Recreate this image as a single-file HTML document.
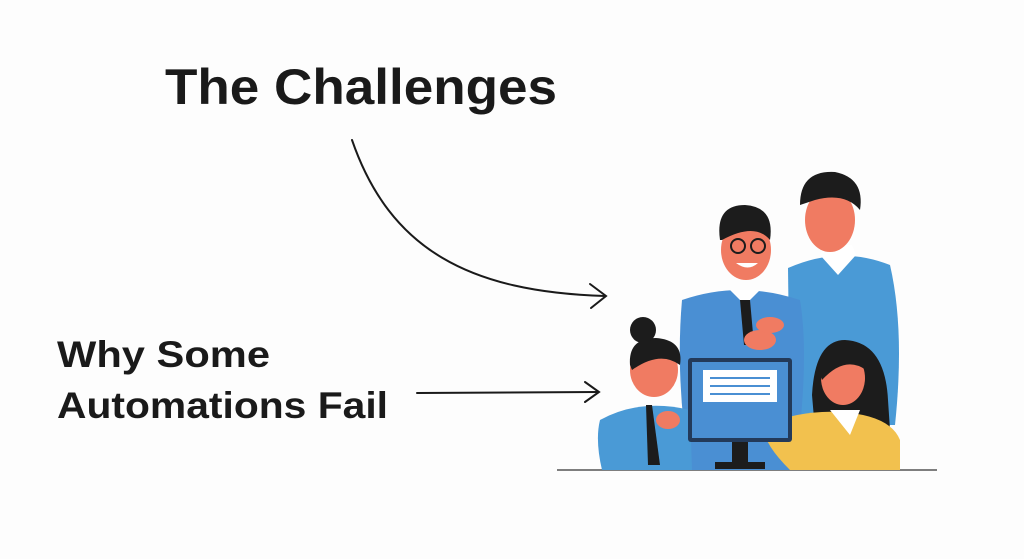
<!DOCTYPE html>
<html><head><meta charset="utf-8"><style>
html,body{margin:0;padding:0;background:#fdfdfd;width:1024px;height:559px;overflow:hidden}
svg{position:absolute;left:0;top:0}
text{font-family:"Liberation Sans",sans-serif;font-weight:bold;fill:#1a1a1a}
</style></head><body>
<svg width="1024" height="559" viewBox="0 0 1024 559">
<text x="165" y="104" font-size="50" textLength="392" lengthAdjust="spacingAndGlyphs">The Challenges</text>
<text x="57" y="367" font-size="37" textLength="213" lengthAdjust="spacingAndGlyphs">Why Some</text>
<text x="57" y="418" font-size="37" textLength="331" lengthAdjust="spacingAndGlyphs">Automations Fail</text>
<g fill="none" stroke="#1a1a1a" stroke-width="2" stroke-linecap="round">
<path d="M352 140 C390 250 470 292 605 296"/>
<path d="M590 284 L606 296 L591 308"/>
<path d="M417 393 L598 392"/>
<path d="M585 382 L599 392 L585 402"/>
</g>
<line x1="557" y1="470" x2="937" y2="470" stroke="#555" stroke-width="1.5"/>
<!-- tall man -->
<path d="M788 268 Q840 245 890 265 Q905 330 895 425 L790 425 Z" fill="#4a9ad6"/>
<path d="M820 255 L838 275 L856 255 L852 245 L824 245 Z" fill="#fff"/>
<ellipse cx="830" cy="220" rx="25" ry="32" fill="#f07b62"/>
<path d="M800 205 Q800 170 835 172 Q865 178 860 210 Q845 192 815 200 Z" fill="#1c1c1c"/>
<!-- glasses man -->
<path d="M682 300 Q740 280 800 300 Q810 360 795 470 L690 470 Q675 380 682 300 Z" fill="#4a8fd3"/>
<path d="M730 290 L745 305 L760 290 Z" fill="#fff"/>
<path d="M740 300 L750 300 L754 345 L744 345 Z" fill="#1c1c1c"/>
<ellipse cx="746" cy="250" rx="25" ry="30" fill="#f07b62"/>
<path d="M720 240 Q715 205 745 205 Q775 207 770 240 Q755 222 722 240 Z" fill="#1c1c1c"/>
<circle cx="738" cy="246" r="7" fill="none" stroke="#1c1c1c" stroke-width="2"/>
<circle cx="758" cy="246" r="7" fill="none" stroke="#1c1c1c" stroke-width="2"/>
<path d="M736 263 Q748 272 758 263 Z" fill="#fff"/>
<ellipse cx="760" cy="340" rx="16" ry="10" fill="#f07b62"/>
<ellipse cx="770" cy="325" rx="14" ry="8" fill="#f07b62"/>
<!-- small woman -->
<path d="M600 420 Q640 398 690 410 L692 470 L602 470 Q595 440 600 420 Z" fill="#4a9ad6"/>
<path d="M646 405 L652 405 L660 465 L648 465 Z" fill="#1c1c1c"/>
<ellipse cx="654" cy="370" rx="24" ry="27" fill="#f07b62"/>
<path d="M630 365 Q628 338 656 338 Q684 340 680 365 Q660 350 632 370 Z" fill="#1c1c1c"/>
<circle cx="643" cy="330" r="13" fill="#1c1c1c"/>
<ellipse cx="668" cy="420" rx="12" ry="9" fill="#f07b62"/>
<!-- right woman -->
<path d="M812 395 Q815 340 845 340 Q885 342 888 400 L890 430 L815 430 Z" fill="#1c1c1c"/>
<path d="M765 425 Q800 410 840 412 Q890 415 900 440 L900 470 L790 470 Q760 440 765 425 Z" fill="#f2c14e"/>
<path d="M830 410 L850 435 L860 410 Z" fill="#fff"/>
<ellipse cx="843" cy="378" rx="22" ry="27" fill="#f07b62"/>
<path d="M820 375 Q820 345 845 345 Q868 348 866 370 Q845 355 822 380 Z" fill="#1c1c1c"/>
<ellipse cx="758" cy="405" rx="10" ry="8" fill="#f07b62"/>
<!-- monitor -->
<rect x="688" y="358" width="104" height="84" rx="3" fill="#233a5a"/>
<rect x="692" y="362" width="96" height="76" fill="#4a8fd3"/>
<rect x="703" y="370" width="74" height="32" fill="#fff"/>
<g stroke="#4a8fd3" stroke-width="2"><line x1="710" y1="378" x2="770" y2="378"/><line x1="710" y1="386" x2="770" y2="386"/><line x1="710" y1="394" x2="770" y2="394"/></g>
<rect x="732" y="442" width="16" height="22" fill="#1c1c1c"/>
<rect x="715" y="462" width="50" height="7" fill="#1c1c1c"/>
</svg>
</body></html>
